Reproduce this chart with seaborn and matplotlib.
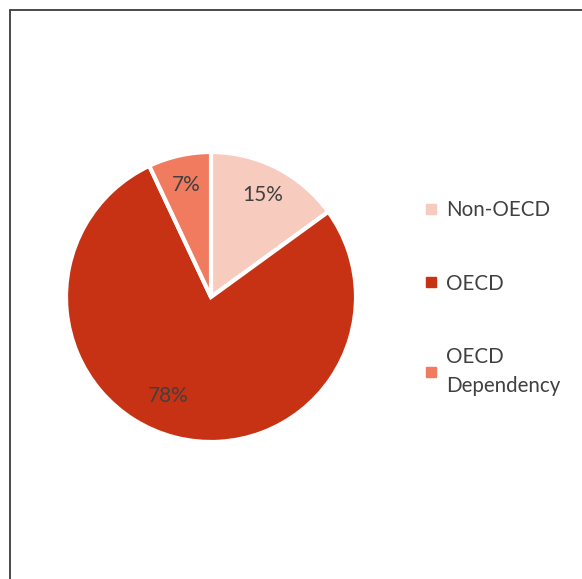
import matplotlib
matplotlib.use("Agg")
import matplotlib.pyplot as plt
import seaborn as sns
import numpy as np
from matplotlib.lines import Line2D
from matplotlib.patches import Rectangle

categories = ["Non-OECD", "OECD", "OECD\nDependency"]
values = [15, 78, 7]
colors = ["#F8CBBF", "#C83214", "#F07B5F"]

sns.set_theme(style="white")
plt.rcParams['font.family'] = ['Lato', 'DejaVu Sans']

W, H = 582, 579
fig = plt.figure(figsize=(W / 100, H / 100), dpi=100)
fig.patch.set_facecolor("white")

cx, cy, r = 211, 297, 145
ax = fig.add_axes([(cx - r) / W, (H - cy - r) / H, 2 * r / W, 2 * r / H])
wedges, texts, autotexts = ax.pie(
    values, colors=colors, startangle=90, counterclock=False,
    autopct=lambda p: f"{p:.0f}%", pctdistance=0.79,
    wedgeprops=dict(edgecolor="white", linewidth=3),
    textprops=dict(color="#404040", fontsize=15))
# large slice label sits a bit further round (best-fit placement)
ang = np.deg2rad(-113.5)
autotexts[1].set_position((0.745 * np.cos(ang), 0.745 * np.sin(ang)))
ax.set_xlim(-1, 1)
ax.set_ylim(-1, 1)
ax.set_aspect("equal")

handles = [Line2D([0], [0], marker="s", linestyle="none", markersize=6.5,
                  markerfacecolor=c, markeredgecolor=c) for c in colors]
leg = fig.legend(handles, categories, loc="center left",
                 bbox_to_anchor=(407 / W, 1 - 298 / H), frameon=False,
                 fontsize=14.8, labelcolor="#404040", handlelength=0.55,
                 handletextpad=0.45, labelspacing=2.6)
for t in leg.get_texts():
    t.set_linespacing(1.55)

# outer border
fig.patches.append(Rectangle((9.5 / W, -0.05), 1.2, 1 - 9.5 / H + 0.05,
                             transform=fig.transFigure, fill=False,
                             edgecolor="#3c3c3c", linewidth=1.3))

fig.savefig("out.png", dpi=100, facecolor="white")
